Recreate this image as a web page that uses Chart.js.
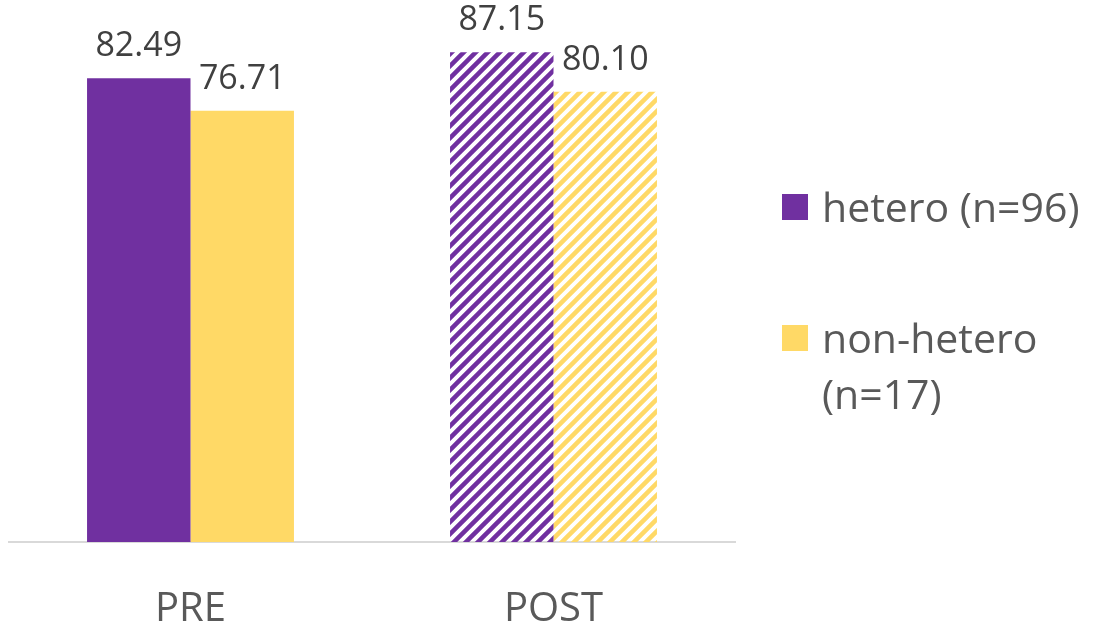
<!DOCTYPE html>
<html>
<head>
<meta charset="utf-8">
<script src="https://cdn.jsdelivr.net/npm/chart.js@4/dist/chart.umd.min.js"></script>
<style>
  body { margin: 0; background: #fff; font-family: "Open Sans", sans-serif; overflow: hidden; }
  #wrap { position: relative; width: 1094px; height: 623px; overflow: hidden; }
  #myChart { position: absolute; left: 0; top: 0; }
  .legend-item { position: absolute; left: 782px; color: #595959; font-size: 41px; line-height: 56px; }
  .legend-item .box { position: absolute; left: 0; width: 26px; height: 26px; }
  .legend-item .txt { position: absolute; left: 40px; white-space: nowrap; }
</style>
</head>
<body>
<div id="wrap">
  <canvas id="myChart" width="1094" height="670"></canvas>
  <div class="legend-item" style="top:178px"><div class="box" style="top:16px;background:#7030A0"></div><div class="txt">hetero (n=96)</div></div>
  <div class="legend-item" style="top:309px"><div class="box" style="top:16px;background:#FFD966"></div><div class="txt">non-hetero<br>(n=17)</div></div>
</div>
<script>
  const categories = ['PRE', 'POST'];
  const hetero = [82.49, 87.15];
  const nonHetero = [76.71, 80.10];

  const purple = '#7030A0';
  const yellow = '#FFD966';

  // diagonal stripes for the POST bars
  function stripes(color) {
    const c = document.createElement('canvas');
    c.width = 12;
    c.height = 12;
    const g = c.getContext('2d');
    g.strokeStyle = color;
    g.lineWidth = 4.5;
    g.beginPath();
    g.moveTo(0, 12); g.lineTo(12, 0);
    g.moveTo(-6, 6); g.lineTo(6, -6);
    g.moveTo(6, 18); g.lineTo(18, 6);
    g.stroke();
    return g.createPattern(c, 'repeat');
  }

  // value labels above each bar
  const valueLabels = {
    id: 'valueLabels',
    afterDatasetsDraw(chart) {
      const ctx = chart.ctx;
      ctx.save();
      ctx.font = '34px "Open Sans"';
      ctx.fillStyle = '#404040';
      ctx.textAlign = 'center';
      ctx.textBaseline = 'alphabetic';
      chart.data.datasets.forEach((ds, i) => {
        chart.getDatasetMeta(i).data.forEach((bar, j) => {
          ctx.fillText(ds.data[j].toFixed(2), bar.x, bar.y - 22);
        });
      });
      ctx.restore();
    }
  };

  const data = {
    labels: categories,
    datasets: [{
      label: 'hetero (n=96)',
      data: hetero,
      backgroundColor: [purple, stripes(purple)],
    }, {
      label: 'non-hetero (n=17)',
      data: nonHetero,
      backgroundColor: [yellow, stripes(yellow)],
    }]
  };

  const config = {
    type: 'bar',
    data: data,
    options: {
      responsive: false,
      animation: false,
      categoryPercentage: 0.57,
      barPercentage: 1,
      layout: {
        padding: { left: 9, right: 359, top: 8, bottom: 0 }
      },
      plugins: {
        legend: { display: false },
        tooltip: { enabled: false }
      },
      scales: {
        x: {
          grid: { display: false },
          border: { display: true, color: '#d9d9d9', width: 2 },
          ticks: {
            color: '#595959',
            padding: 40,
            font: { family: '"Open Sans"', size: 40, lineHeight: 1 }
          }
        },
        y: {
          display: false,
          min: 0,
          max: 95
        }
      }
    },
    plugins: [valueLabels]
  };

  const myChart = new Chart(document.getElementById('myChart'), config);
</script>
</body>
</html>
